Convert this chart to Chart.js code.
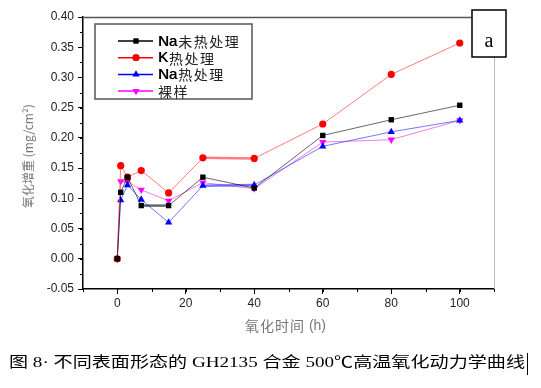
<!DOCTYPE html>
<html>
<head>
<meta charset="utf-8">
<script src="https://cdn.jsdelivr.net/npm/chart.js@4"></script>
<style>
  html, body { margin: 0; padding: 0; background: #fff; }
  #wrap { width: 541px; height: 388px; position: relative; }
</style>
</head>
<body>
<div id="wrap"><canvas id="myChart" width="541" height="388"></canvas></div>
<script>
// oxidation time (h)
const hours = [0, 1, 3, 7, 15, 25, 40, 60, 80, 100];
// mass gain (mg/cm2)
const naUntreated = [0, 0.110, 0.135, 0.088, 0.088, 0.135, 0.117, 0.204, 0.230, 0.254];
const kTreated    = [0, 0.154, 0.135, 0.146, 0.109, 0.167, 0.166, 0.223, 0.305, 0.357];
const naTreated   = [0, 0.097, 0.122, 0.098, 0.060, 0.121, 0.122, 0.186, 0.210, 0.229];
const bare        = [0, 0.128, 0.128, 0.114, 0.096, 0.126, 0.116, 0.193, 0.197, 0.229];
const seriesNames = ['Na未热处理', 'K热处理', 'Na热处理', '裸样'];
const xTicks = [0, 20, 40, 60, 80, 100];
const yTicks = [-0.05, 0, 0.05, 0.10, 0.15, 0.20, 0.25, 0.30, 0.35, 0.40];

const cjk = '"Noto Sans CJK SC"';
const serifFont = '"Liberation Serif", ' + cjk;

function pts(vals) {
  return hours.map((h, i) => ({ x: h, y: vals[i] }));
}

// thicker stroke on nearly flat segments, like the scan
const flatWidth = ctx => Math.abs(ctx.p0.y - ctx.p1.y) < 2 ? 2.5 : 1;

const datasets = [
  { label: seriesNames[0], data: pts(naUntreated), borderColor: 'rgba(0,0,0,0.6)', backgroundColor: '#000',
    pointBorderColor: '#000', pointStyle: 'rect', pointRadius: 3.8, legendLine: '#000' },
  { label: seriesNames[1], data: pts(kTreated), borderColor: 'rgba(255,80,80,0.75)', backgroundColor: '#f00',
    pointBorderColor: '#f00', pointStyle: 'circle', pointRadius: 3.6, legendLine: '#f00' },
  { label: seriesNames[2], data: pts(naTreated), borderColor: 'rgba(60,60,255,0.7)', backgroundColor: '#00f',
    pointBorderColor: '#00f', pointStyle: 'triangle', pointRadius: 4.2, legendLine: '#00f' },
  { label: seriesNames[3], data: pts(bare), borderColor: 'rgba(230,70,230,0.7)', backgroundColor: '#f0f',
    pointBorderColor: '#f0f', pointStyle: 'triangle', pointRotation: 180, pointRadius: 4.2, legendLine: '#f0f' }
];
datasets.forEach(d => {
  d.borderWidth = 1;
  d.pointBorderWidth = 0;
  d.tension = 0;
  d.segment = { borderWidth: flatWidth };
});

const decor = {
  id: 'decor',
  afterDraw(chart) {
    const c = chart.ctx;
    const a = chart.chartArea;
    const xs = chart.scales.x, ys = chart.scales.y;
    c.save();

    // top and right frame
    c.strokeStyle = '#555';
    c.lineWidth = 1.5;
    c.beginPath();
    c.moveTo(a.left, a.top + 0.5);
    c.lineTo(472, a.top + 0.5);
    c.stroke();
    c.strokeStyle = '#bbb';
    c.lineWidth = 1;
    c.beginPath();
    c.moveTo(a.right + 0.5, 57);
    c.lineTo(a.right + 0.5, a.bottom);
    c.stroke();

    // minor ticks
    c.strokeStyle = '#000';
    c.lineWidth = 1;
    for (let v = -0.05; v <= 0.4001; v += 0.025) {
      const y = Math.round(ys.getPixelForValue(v)) + 0.5;
      c.beginPath();
      c.moveTo(a.left, y);
      c.lineTo(a.left - 3, y);
      c.stroke();
    }
    for (let v = -10; v <= 110; v += 10) {
      const x = Math.round(xs.getPixelForValue(v)) + 0.5;
      c.beginPath();
      c.moveTo(x, a.bottom);
      c.lineTo(x, a.bottom + 3);
      c.stroke();
    }

    // "a" box
    c.fillStyle = '#fff';
    c.fillRect(472, 10, 34, 47);
    c.strokeStyle = '#000';
    c.lineWidth = 1.5;
    c.strokeRect(472, 10, 34, 47);
    c.fillStyle = '#000';
    c.font = '20px "Liberation Serif"';
    c.textAlign = 'center';
    c.textBaseline = 'middle';
    c.fillText('a', 489, 42);

    // legend
    c.fillStyle = '#fff';
    c.fillRect(95, 24, 157, 75);
    c.strokeStyle = '#555';
    c.lineWidth = 1.5;
    c.strokeRect(95, 24, 157, 75);
    chart.data.datasets.forEach((d, i) => {
      const y = 41 + i * 16.7;
      c.strokeStyle = d.legendLine;
      c.lineWidth = 1.5;
      c.beginPath();
      c.moveTo(118, y);
      c.lineTo(153, y);
      c.stroke();
      c.fillStyle = d.backgroundColor;
      Chart.helpers.drawPoint(c, {
        pointStyle: d.pointStyle, radius: d.pointRadius, rotation: d.pointRotation || 0, borderWidth: 0
      }, 136, y);
      c.fillStyle = '#000';
      c.textAlign = 'left';
      c.textBaseline = 'middle';
      let tx = 158;
      const latin = d.label.match(/^[A-Za-z]+/);
      if (latin) {
        c.font = '15px "Liberation Sans"';
        c.fillText(latin[0], tx, y + 0.5);
        c.fillText(latin[0], tx + 0.4, y + 0.5);
        tx += c.measureText(latin[0]).width + 1;
      }
      c.font = '14px ' + cjk;
      c.fillStyle = '#222';
      for (const ch of d.label.slice(latin ? latin[0].length : 0)) {
        c.fillText(ch, tx, y + 0.5);
        tx += 15.5;
      }
    });

    // axis titles
    c.fillStyle = '#777';
    c.textAlign = 'left';
    c.textBaseline = 'middle';
    c.font = '14px ' + cjk;
    let tx = 245;
    for (const ch of '氧化时间') {
      c.fillText(ch, tx, 326);
      tx += 15;
    }
    c.font = '14px "Liberation Sans"';
    c.fillText(' (h)', tx, 326);

    c.save();
    c.translate(28, 156);
    c.rotate(-Math.PI / 2);
    c.textAlign = 'center';
    c.font = '12px ' + cjk;
    c.fillText('氧化增重 (mg/cm²)', 0, 0);
    c.restore();

    // caption
    c.fillStyle = '#000';
    c.font = '15px ' + serifFont;
    c.textAlign = 'left';
    c.textBaseline = 'middle';
    const cap = '图 8· 不同表面形态的 GH2135 合金 500℃高温氧化动力学曲线';
    const w = c.measureText(cap).width;
    const target = 516;
    c.save();
    c.translate(9, 363);
    c.scale(target / w, 1);
    c.fillText(cap, 0, 0);
    c.restore();
    c.strokeStyle = '#000';
    c.lineWidth = 1;
    c.beginPath();
    c.moveTo(527.5, 353);
    c.lineTo(527.5, 375);
    c.stroke();

    c.restore();
  }
};

const ctx = document.getElementById('myChart').getContext('2d');
const myChart = new Chart(ctx, {
  type: 'line',
  data: { datasets: datasets },
  options: {
    responsive: false,
    animation: false,
    layout: { padding: { left: 0, top: 17, right: 47, bottom: 0 } },
    plugins: { legend: { display: false }, tooltip: { enabled: false } },
    scales: {
      x: {
        type: 'linear',
        min: -10,
        max: 110,
        afterFit: s => { s.height = 99; },
        afterBuildTicks: s => { s.ticks = xTicks.map(v => ({ value: v })); },
        border: { color: '#000', width: 1.5 },
        grid: { drawOnChartArea: false, color: '#000', tickLength: 5 },
        ticks: { color: '#222', font: { family: 'Liberation Sans', size: 12 }, padding: 2, maxRotation: 0,
          callback: v => String(v) }
      },
      y: {
        type: 'linear',
        min: -0.05,
        max: 0.40,
        afterFit: s => { s.width = 83; },
        afterBuildTicks: s => { s.ticks = yTicks.map(v => ({ value: v })); },
        border: { color: '#000', width: 1.5 },
        grid: { drawOnChartArea: false, color: '#000', tickLength: 5 },
        ticks: { color: '#222', font: { family: 'Liberation Sans', size: 12 }, padding: 4,
          callback: v => v.toFixed(2) }
      }
    }
  },
  plugins: [decor]
});
</script>
</body>
</html>
